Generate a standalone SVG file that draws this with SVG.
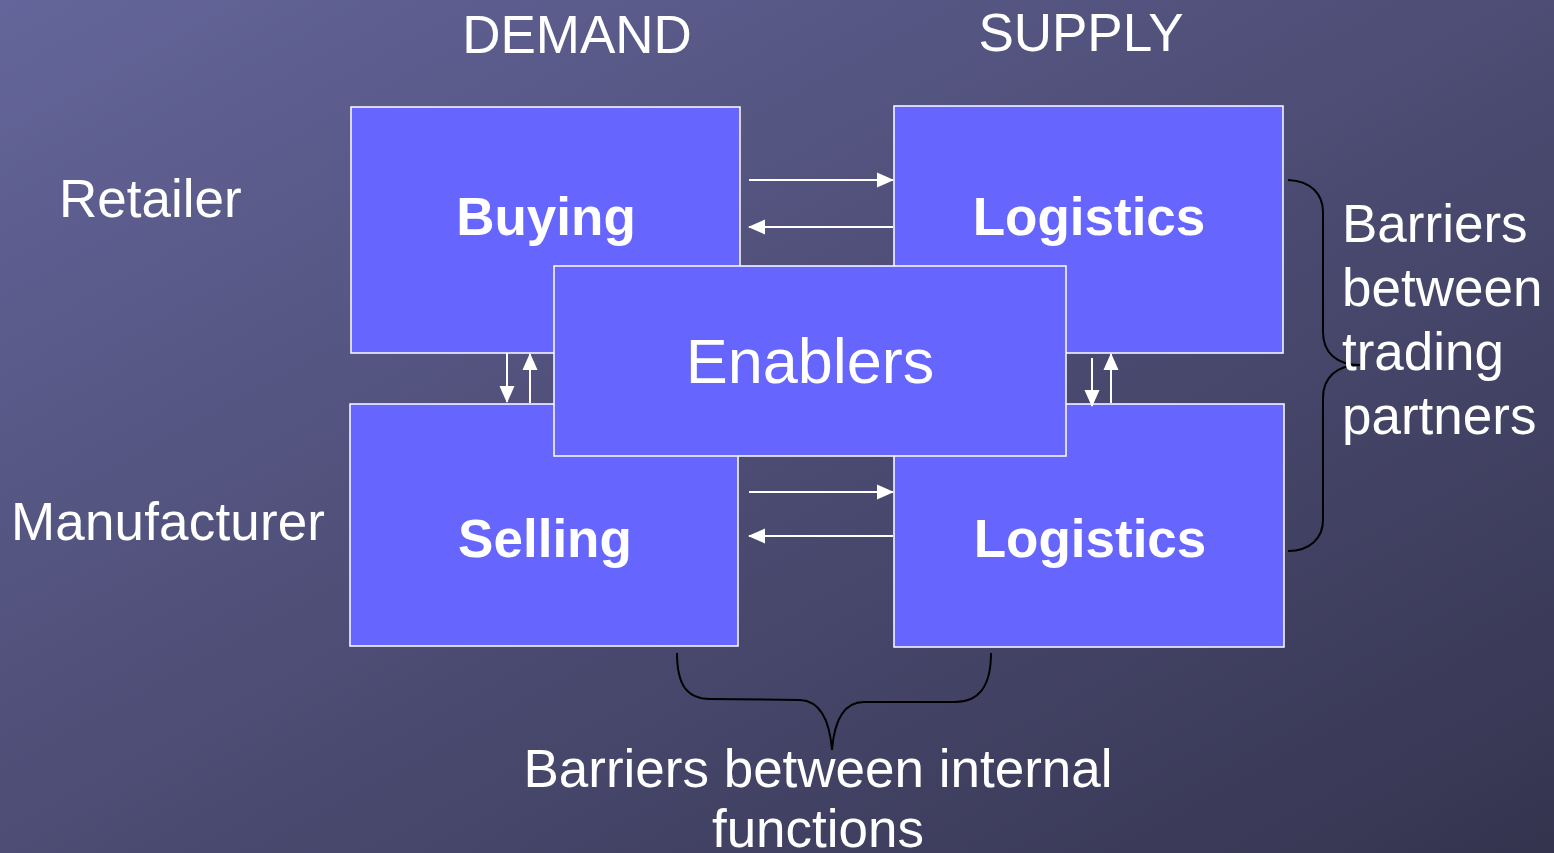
<svg xmlns="http://www.w3.org/2000/svg" width="1554" height="853" viewBox="0 0 1554 853">
<defs>
<linearGradient id="bg" x1="0" y1="0" x2="1" y2="1">
<stop offset="0" stop-color="#64659a"/>
<stop offset="1" stop-color="#35344f"/>
</linearGradient>
<marker id="ah" markerWidth="17" markerHeight="16" refX="16" refY="8" orient="auto" markerUnits="userSpaceOnUse">
<path d="M0,0.5 L17,8 L0,15.5 Z" fill="#ffffff"/>
</marker>
<style>
.box{fill:#6666ff;stroke:#ffffff;stroke-width:1.5}
.t{font-family:"Liberation Sans",Arial,sans-serif;fill:#ffffff;font-size:53px}
.b{font-weight:bold}
.c{text-anchor:middle}
.big{font-size:63px}
.arr{stroke:#ffffff;stroke-width:2;fill:none;marker-end:url(#ah)}
.br{stroke:#000000;stroke-width:2;fill:none}
</style>
</defs>
<rect width="1554" height="853" fill="url(#bg)"/>
<g id="labels">
<text class="t c" x="577" y="53">DEMAND</text>
<text class="t c" x="1081" y="51">SUPPLY</text>
<text class="t" x="59" y="217">Retailer</text>
<text class="t" x="11" y="540" textLength="314">Manufacturer</text>
</g>
<g id="buying"><rect class="box" x="351" y="107" width="389" height="246"/><text class="t b c" x="546" y="235">Buying</text></g>
<g id="logistics-top"><rect class="box" x="894" y="106" width="389" height="247"/><text class="t b c" x="1089" y="235">Logistics</text></g>
<g id="selling"><rect class="box" x="350" y="404" width="388" height="242"/><text class="t b c" x="545" y="557">Selling</text></g>
<g id="logistics-bottom"><rect class="box" x="894" y="404" width="390" height="243"/><text class="t b c" x="1090" y="557">Logistics</text></g>
<g id="enablers"><rect class="box" x="554" y="266" width="512" height="190"/><text class="t big c" x="810" y="383">Enablers</text></g>
<g id="connectors">
<line class="arr" x1="749" y1="180" x2="893" y2="180"/>
<line class="arr" x1="893" y1="227" x2="749" y2="227"/>
<line class="arr" x1="749" y1="492" x2="893" y2="492"/>
<line class="arr" x1="893" y1="536" x2="749" y2="536"/>
<line class="arr" x1="507" y1="353" x2="507" y2="402"/>
<line class="arr" x1="530" y1="403" x2="530" y2="354"/>
<line class="arr" x1="1092" y1="358" x2="1092" y2="406"/>
<line class="arr" x1="1111" y1="403" x2="1111" y2="354"/>
<path class="br" d="M1288,180 C1312,181 1323,195 1323,212 L1323,332 C1323,352 1336,365 1360,365 C1336,365 1323,378 1323,398 L1323,520 C1323,538 1310,551 1288,551"/>
<path class="br" d="M677,653 C677,685 687,699 710,699 L800,700 C822,701 830,725 832,750 C834,725 842,702 864,702 L955,702 C978,702 991,688 991,653"/>
</g>
<g id="notes">
<text class="t" x="1342" y="242">Barriers</text>
<text class="t" x="1342" y="306">between</text>
<text class="t" x="1342" y="370">trading</text>
<text class="t" x="1342" y="434">partners</text>
<text class="t c" x="818" y="787">Barriers between internal</text>
<text class="t c" x="818" y="847">functions</text>
</g>
</svg>
